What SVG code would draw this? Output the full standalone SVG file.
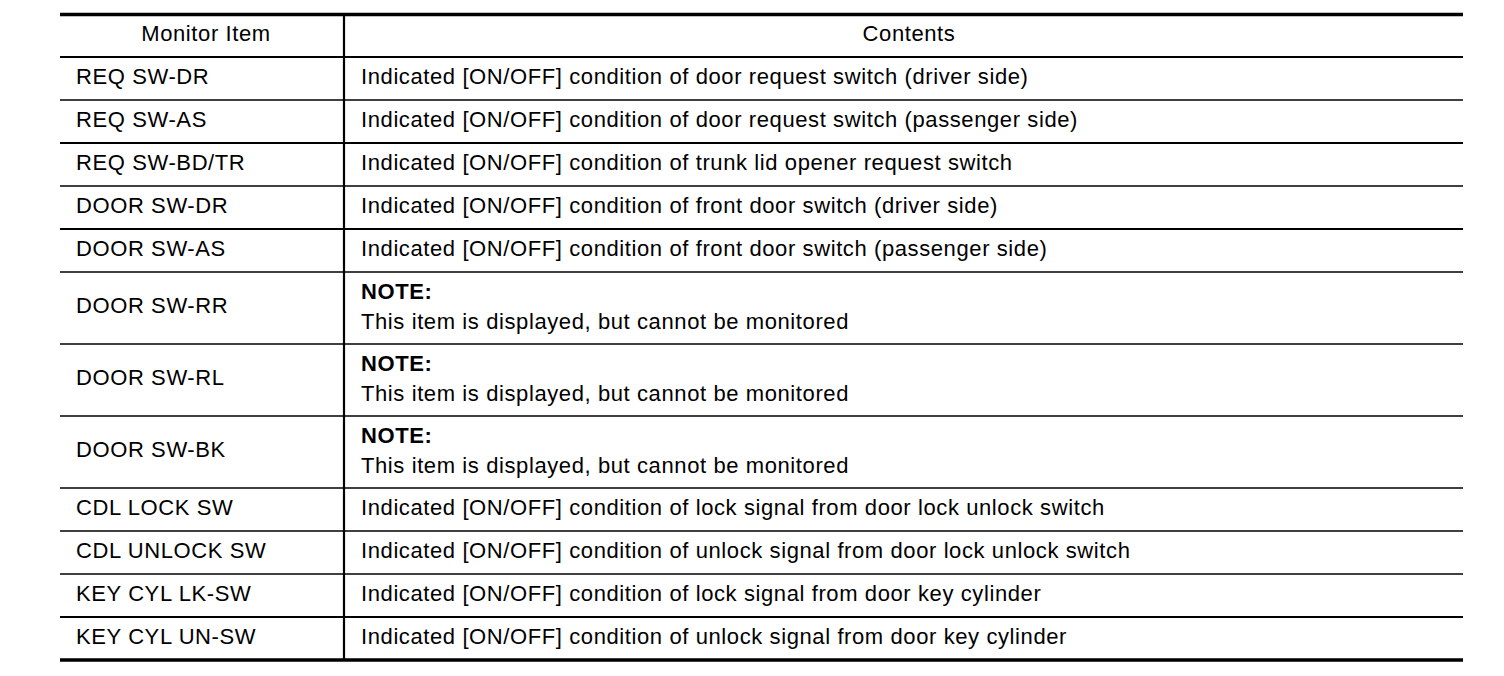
<svg xmlns="http://www.w3.org/2000/svg" width="1504" height="676" viewBox="0 0 1504 676">
<style>
text{font-family:"Liberation Sans",Arial,sans-serif;font-size:22px;letter-spacing:0.6px;fill:#000}
.b{font-weight:bold}
.c{text-anchor:middle}
line{stroke:#000}
.t1{stroke-width:1.3}
.t2{stroke-width:2.2}
.t3{stroke-width:3.5}
</style>
<rect width="1504" height="676" fill="#fff"/>
<g id="grid">
<line class="t3" x1="60" y1="14.5" x2="1463" y2="14.5"/>
<line class="t2" x1="60" y1="57" x2="1463" y2="57"/>
<line class="t1" x1="60" y1="100" x2="1463" y2="100"/>
<line class="t2" x1="60" y1="143" x2="1463" y2="143"/>
<line class="t1" x1="60" y1="186" x2="1463" y2="186"/>
<line class="t2" x1="60" y1="229" x2="1463" y2="229"/>
<line class="t1" x1="60" y1="272" x2="1463" y2="272"/>
<line class="t1" x1="60" y1="344" x2="1463" y2="344"/>
<line class="t1" x1="60" y1="416" x2="1463" y2="416"/>
<line class="t1" x1="60" y1="488" x2="1463" y2="488"/>
<line class="t1" x1="60" y1="531" x2="1463" y2="531"/>
<line class="t1" x1="60" y1="574" x2="1463" y2="574"/>
<line class="t2" x1="60" y1="617" x2="1463" y2="617"/>
<line class="t3" x1="60" y1="660" x2="1463" y2="660"/>
<line class="t2" x1="344" y1="14" x2="344" y2="660"/>
</g>
<g id="header">
<text class="c" x="206" y="40.5">Monitor Item</text>
<text class="c" x="909" y="40.5">Contents</text>
</g>
<g id="row1"><text x="76" y="83.5">REQ SW-DR</text><text x="361" y="83.5">Indicated [ON/OFF] condition of door request switch (driver side)</text></g>
<g id="row2"><text x="76" y="126.5">REQ SW-AS</text><text x="361" y="126.5">Indicated [ON/OFF] condition of door request switch (passenger side)</text></g>
<g id="row3"><text x="76" y="169.5">REQ SW-BD/TR</text><text x="361" y="169.5">Indicated [ON/OFF] condition of trunk lid opener request switch</text></g>
<g id="row4"><text x="76" y="212.5">DOOR SW-DR</text><text x="361" y="212.5">Indicated [ON/OFF] condition of front door switch (driver side)</text></g>
<g id="row5"><text x="76" y="255.5">DOOR SW-AS</text><text x="361" y="255.5">Indicated [ON/OFF] condition of front door switch (passenger side)</text></g>
<g id="row6"><text x="76" y="312.5">DOOR SW-RR</text><text class="b" x="361" y="298.5">NOTE:</text><text x="361" y="328.5">This item is displayed, but cannot be monitored</text></g>
<g id="row7"><text x="76" y="384.5">DOOR SW-RL</text><text class="b" x="361" y="370.5">NOTE:</text><text x="361" y="400.5">This item is displayed, but cannot be monitored</text></g>
<g id="row8"><text x="76" y="456.5">DOOR SW-BK</text><text class="b" x="361" y="442.5">NOTE:</text><text x="361" y="472.5">This item is displayed, but cannot be monitored</text></g>
<g id="row9"><text x="76" y="514.5">CDL LOCK SW</text><text x="361" y="514.5">Indicated [ON/OFF] condition of lock signal from door lock unlock switch</text></g>
<g id="row10"><text x="76" y="557.5">CDL UNLOCK SW</text><text x="361" y="557.5">Indicated [ON/OFF] condition of unlock signal from door lock unlock switch</text></g>
<g id="row11"><text x="76" y="600.5">KEY CYL LK-SW</text><text x="361" y="600.5">Indicated [ON/OFF] condition of lock signal from door key cylinder</text></g>
<g id="row12"><text x="76" y="643.5">KEY CYL UN-SW</text><text x="361" y="643.5">Indicated [ON/OFF] condition of unlock signal from door key cylinder</text></g>
</svg>
